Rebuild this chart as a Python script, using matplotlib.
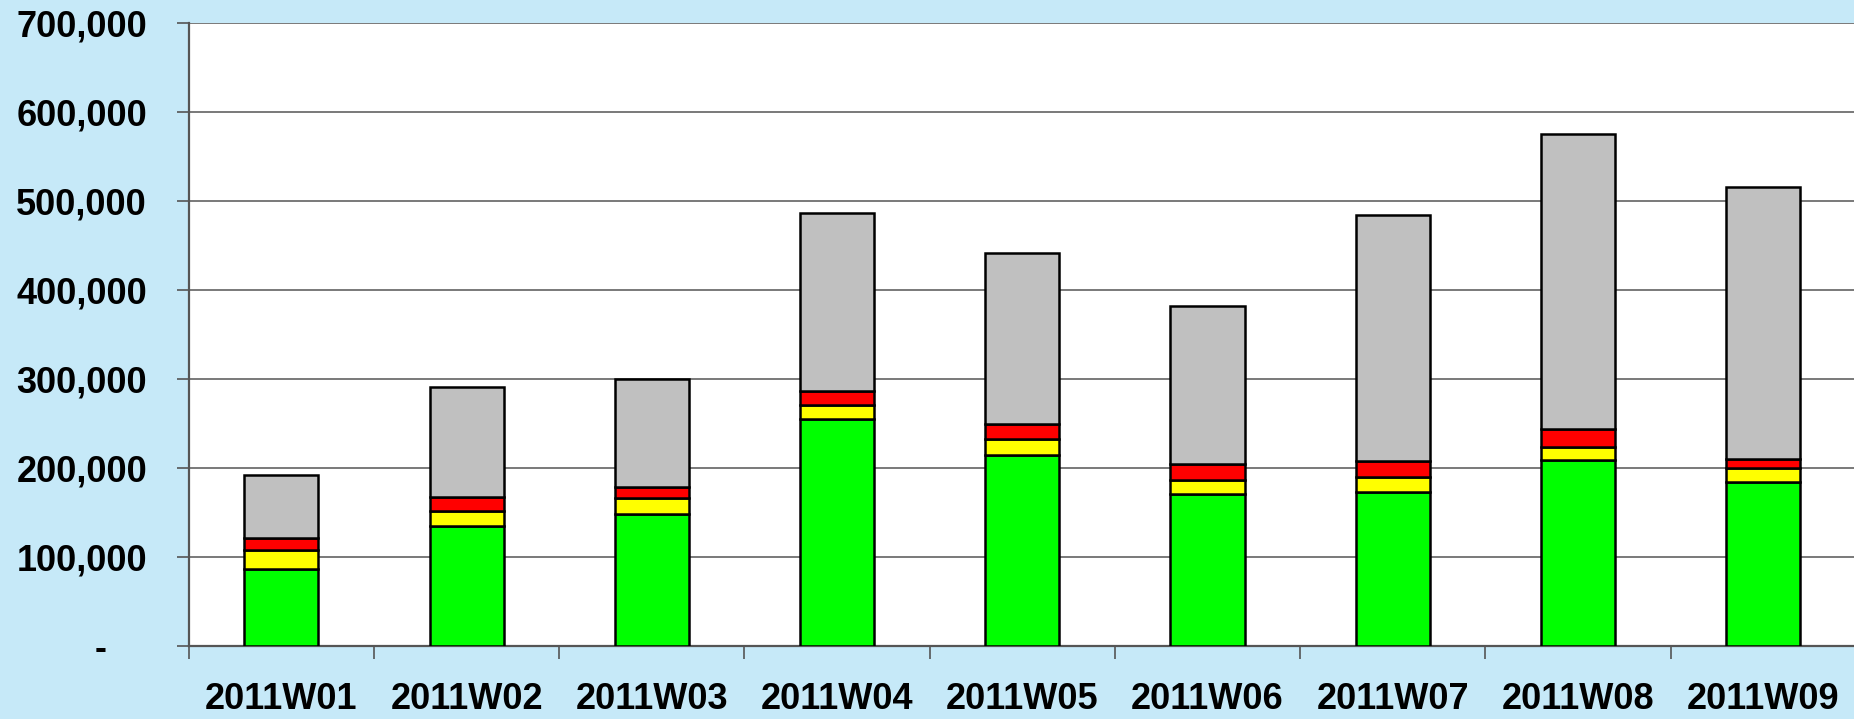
import numpy as np
import matplotlib
matplotlib.use("Agg")
import matplotlib.pyplot as plt
from matplotlib.ticker import FuncFormatter

# weekly values
weeks = ['2011W01', '2011W02', '2011W03', '2011W04', '2011W05',
         '2011W06', '2011W07', '2011W08', '2011W09']
green = [86500, 134000, 148000, 254000, 214000, 170000, 172500, 208500, 184000]
yellow = [20500, 17000, 17500, 16000, 17500, 16000, 16500, 15000, 15500]
red = [14000, 15500, 13000, 16500, 17500, 18000, 18000, 19500, 10500]
grey = [71000, 124000, 120500, 199500, 192500, 177500, 277000, 332000, 305000]

yticks = [0, 100000, 200000, 300000, 400000, 500000, 600000, 700000]

plt.rcParams['font.family'] = ['Liberation Sans', 'DejaVu Sans']

fig = plt.figure(figsize=(18.54, 7.19), dpi=100)
fig.patch.set_facecolor('#C6E9F8')
ax = fig.add_axes([0.1018, 0.1022, 0.8992, 0.8665])
ax.set_facecolor('white')

x = np.arange(len(weeks))
bottom = np.zeros(len(weeks))
for vals, col in [(green, '#00FF00'), (yellow, '#FFFF00'), (red, '#FF0000'), (grey, '#C0C0C0')]:
    ax.bar(x, vals, 0.4, bottom=bottom, color=col, edgecolor='black', linewidth=1.8, zorder=3)
    bottom = bottom + np.array(vals)

ax.set_xlim(-0.5, len(weeks) - 0.5)
ax.set_ylim(0, 700000)

# grid lines
ax.set_yticks(yticks)
ax.yaxis.grid(True, color='#6e6e6e', linewidth=1.3, zorder=0)
ax.set_axisbelow(True)

def fmt(v, pos):
    if v == 0:
        return '-\u2007\u2007'
    return '{:,.0f}'.format(v)
ax.yaxis.set_major_formatter(FuncFormatter(fmt))

# category labels in the middle, tick marks between categories
ax.set_xticks(x)
ax.set_xticklabels(weeks)
ax.set_xticks(np.arange(len(weeks) + 1) - 0.5, minor=True)
ax.tick_params(axis='x', which='major', length=0, pad=26, labelsize=26)
ax.tick_params(axis='x', which='minor', length=9, width=1.2, color='#555555')
ax.tick_params(axis='y', length=9, width=1.2, color='#555555', pad=21, labelsize=26)
for lab in ax.get_xticklabels() + ax.get_yticklabels():
    lab.set_fontweight('bold')

for s in ['top', 'right']:
    ax.spines[s].set_visible(False)
ax.spines['left'].set_color('#555555')
ax.spines['left'].set_linewidth(1.6)
ax.spines['bottom'].set_color('#555555')
ax.spines['bottom'].set_linewidth(1.6)

fig.savefig('out.png', dpi=100, facecolor=fig.get_facecolor())
